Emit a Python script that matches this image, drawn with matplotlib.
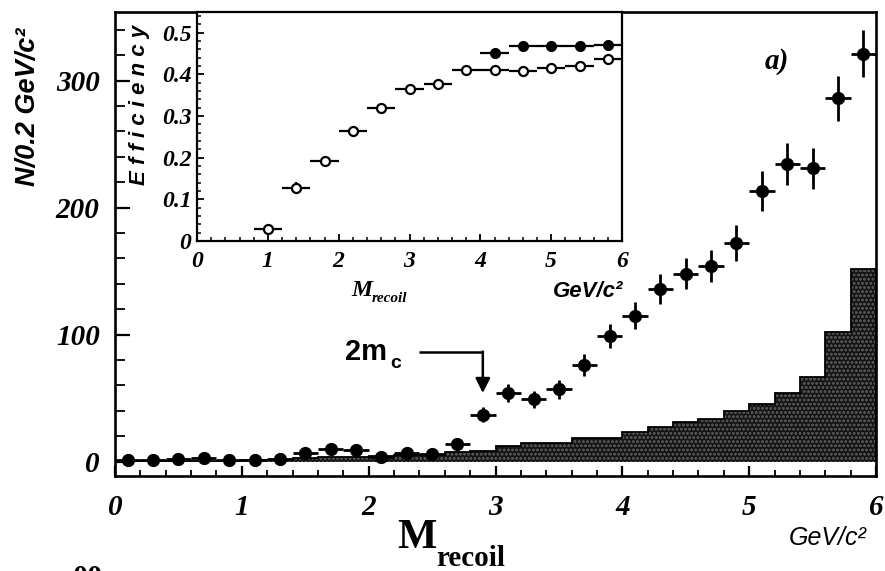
import matplotlib
matplotlib.use("Agg")
import matplotlib.pyplot as plt
from matplotlib.ticker import MultipleLocator, FixedLocator
import numpy as np

# ---------------- data ----------------
# main plot: recoil mass spectrum (bin width 0.2 GeV/c^2)
mass_centers = [0.1, 0.3, 0.5, 0.7, 0.9, 1.1, 1.3, 1.5, 1.7, 1.9,
                2.1, 2.3, 2.5, 2.7, 2.9, 3.1, 3.3, 3.5, 3.7, 3.9,
                4.1, 4.3, 4.5, 4.7, 4.9, 5.1, 5.3, 5.5, 5.7, 5.9]
counts = [1, 1, 2, 3, 1, 1, 2, 7, 10, 9,
          4, 7, 6, 14, 37, 54, 49, 57, 76, 99,
          115, 136, 148, 154, 172, 213, 234, 231, 286, 321]
count_err = [2, 2, 2, 2, 2, 2, 2, 3, 3.5, 3.5,
             2.5, 3, 3, 4, 6, 7, 7, 7.5, 8.5, 9.5,
             10.5, 11.5, 12, 12.5, 14, 15.5, 16.5, 16, 18, 18.5]
mass_halfwidth = 0.1

# background histogram (shaded)
bkg_edges = [0.0, 0.2, 0.4, 0.6, 0.8, 1.0, 1.2, 1.4, 1.6, 1.8, 2.0,
             2.2, 2.4, 2.6, 2.8, 3.0, 3.2, 3.4, 3.6, 3.8, 4.0,
             4.2, 4.4, 4.6, 4.8, 5.0, 5.2, 5.4, 5.6, 5.8, 6.0]
bkg_counts = [0.3, 0.3, 0.5, 0.6, 0.8, 1.0, 1.5, 3, 3.5, 4,
              4.5, 5, 5.5, 7.5, 8.7, 12.6, 14.5, 14.5, 19, 19,
              23, 27.5, 31.5, 33.5, 40, 45, 54, 66.5, 102, 152]

# inset: efficiency
eff_x_open = [1.0, 1.4, 1.8, 2.2, 2.6, 3.0, 3.4, 3.8, 4.2, 4.6, 5.0, 5.4, 5.8]
eff_open = [0.030, 0.128, 0.193, 0.265, 0.320, 0.364, 0.378, 0.411,
            0.410, 0.408, 0.416, 0.421, 0.436]
eff_open_err = [0.011, 0.014, 0.012, 0.010, 0.009, 0.0075, 0.005, 0.005,
                0.004, 0.003, 0.003, 0.003, 0.003]
eff_x_filled = [4.2, 4.6, 5.0, 5.4, 5.8]
eff_filled = [0.451, 0.469, 0.469, 0.469, 0.471]
eff_filled_err = [0.004, 0.003, 0.003, 0.003, 0.003]
eff_halfwidth = 0.2

main_xticks = [0, 1, 2, 3, 4, 5, 6]
main_xticklabels = ['0', '1', '2', '3', '4', '5', '6']
main_yticks = [0, 100, 200, 300]
main_yticklabels = ['0', '100', '200', '300']
inset_yticks = [0, 0.1, 0.2, 0.3, 0.4, 0.5]
inset_yticklabels = ['0', '0.1', '0.2', '0.3', '0.4', '0.5']

# annotation for 2m_c threshold
arrow_x_start = 2.40
arrow_x = 2.90
arrow_y_top = 86
arrow_y_tip = 54

SERIF = 'Liberation Serif'
SANS = 'Liberation Sans'

plt.rcParams['hatch.linewidth'] = 0.7

W, H = 885, 571
fig = plt.figure(figsize=(W / 100, H / 100), dpi=100)


def fx(px):
    return px / W


def fy(py):
    return 1 - py / H


# ---------------- main axes ----------------
ax = fig.add_axes([fx(115), fy(476), fx(876) - fx(115), fy(12) - fy(476)])
ax.set_zorder(1)
ax.set_xlim(0, 6)
ax.set_ylim(-11.3, 354)

# background histogram
ax.stairs(bkg_counts, bkg_edges, fill=True, facecolor='#141414',
          edgecolor='#505050', hatch='oooo', linewidth=0, zorder=1)
ax.stairs(bkg_counts, bkg_edges, fill=False, edgecolor='black',
          linewidth=1.3, zorder=2)

# data points
ax.errorbar(mass_centers, counts, xerr=mass_halfwidth, yerr=count_err,
            fmt='o', color='black', ms=8.5, elinewidth=2.0, capsize=0,
            zorder=3)

for s in ['top', 'right', 'bottom', 'left']:
    ax.spines[s].set_linewidth(1.9)

ax.xaxis.set_major_locator(FixedLocator(main_xticks))
ax.set_xticklabels(main_xticklabels)
ax.xaxis.set_minor_locator(MultipleLocator(0.2))
ax.yaxis.set_major_locator(FixedLocator(main_yticks))
ax.set_yticklabels(main_yticklabels)
ax.yaxis.set_minor_locator(MultipleLocator(20))
ax.tick_params(axis='x', which='major', direction='in', length=7.5, width=1.6,
               top=False, pad=13)
ax.tick_params(axis='x', which='minor', direction='in', length=4.5, width=1.3,
               top=False)
ax.tick_params(axis='y', which='major', direction='in', length=11, width=1.6,
               right=False, pad=11)
ax.tick_params(axis='y', which='minor', direction='in', length=7, width=1.3,
               right=False)
for lab in ax.get_xticklabels() + ax.get_yticklabels():
    lab.set_fontfamily(SERIF)
    lab.set_fontstyle('italic')
    lab.set_fontweight('bold')
    lab.set_fontsize(21)

# 2m_c annotation
ax.plot([arrow_x_start, arrow_x], [arrow_y_top, arrow_y_top], color='black',
        lw=1.8, zorder=4, solid_capstyle='butt')
ax.annotate('', xy=(arrow_x, arrow_y_tip), xytext=(arrow_x, arrow_y_top + 0.7),
            arrowprops=dict(arrowstyle='-|>', color='black', lw=1.8,
                            mutation_scale=22, shrinkA=0, shrinkB=0),
            zorder=4)
ax.text(1.81, 86, '2m', fontfamily=SANS, fontweight='bold', fontsize=21,
        ha='left', va='center', zorder=4)
ax.text(2.17, 77, 'c', fontfamily=SANS, fontweight='bold', fontsize=14,
        ha='left', va='center', zorder=4)

ax.text(5.22, 315, 'a)', fontfamily=SERIF, fontstyle='italic',
        fontweight='bold', fontsize=21, ha='center', va='center')

# axis labels (figure pixel positions)
fig.text(fx(437), fy(548), 'M', fontfamily=SERIF, fontweight='bold',
         fontsize=30, ha='right', va='baseline')
fig.text(fx(436), fy(566), 'recoil', fontfamily=SERIF, fontweight='bold',
         fontsize=21, ha='left', va='baseline')
fig.text(fx(867), fy(545), 'GeV/c²', fontfamily=SANS, fontstyle='italic',
         fontsize=18, ha='right', va='baseline')
fig.text(fx(28), fy(107), 'N/0.2 GeV/c²', fontfamily=SANS, fontstyle='italic',
         fontweight='bold', fontsize=19.5, rotation=90, ha='center',
         va='center')
fig.text(fx(88), fy(565), '00', fontfamily=SERIF, fontweight='bold',
         fontsize=22, ha='center', va='top')

# ---------------- inset ----------------
axi = fig.add_axes([fx(197), fy(241), fx(622) - fx(197), fy(12) - fy(241)])
axi.set_zorder(2)
axi.set_facecolor('white')
axi.set_xlim(0, 6)
axi.set_ylim(0, 0.55)

axi.errorbar(eff_x_open, eff_open, xerr=eff_halfwidth, yerr=eff_open_err,
             fmt='o', color='black', mfc='white', mec='black', ms=6.5,
             mew=1.6, elinewidth=1.6, capsize=0, zorder=3)
axi.errorbar(eff_x_filled, eff_filled, xerr=eff_halfwidth,
             yerr=eff_filled_err, fmt='o', color='black', ms=7,
             elinewidth=1.6, capsize=0, zorder=3)

for s in ['top', 'right', 'bottom', 'left']:
    axi.spines[s].set_linewidth(1.6)
axi.xaxis.set_major_locator(MultipleLocator(1))
axi.xaxis.set_minor_locator(MultipleLocator(0.2))
axi.yaxis.set_major_locator(FixedLocator(inset_yticks))
axi.set_yticklabels(inset_yticklabels)
axi.yaxis.set_minor_locator(MultipleLocator(0.02))
axi.tick_params(axis='both', which='major', direction='in', length=5,
                width=1.3, top=False, right=False)
axi.tick_params(axis='both', which='minor', direction='in', length=3,
                width=1.1, top=False, right=False)
axi.tick_params(axis='x', which='major', pad=7)
axi.tick_params(axis='y', which='major', pad=4)
for lab in axi.get_xticklabels() + axi.get_yticklabels():
    lab.set_fontfamily(SERIF)
    lab.set_fontstyle('italic')
    lab.set_fontweight('bold')
    lab.set_fontsize(17)

fig.text(fx(140), fy(105), 'E f f i c i e n c y', fontfamily=SANS,
         fontstyle='italic', fontweight='bold', fontsize=16, rotation=90,
         ha='center', va='center')
fig.text(fx(372), fy(296), 'M', fontfamily=SERIF, fontstyle='italic',
         fontweight='bold', fontsize=17, ha='right', va='baseline')
fig.text(fx(372), fy(302), 'recoil', fontfamily=SERIF, fontstyle='italic',
         fontweight='bold', fontsize=11, ha='left', va='baseline')
fig.text(fx(623), fy(297), 'GeV/c²', fontfamily=SANS, fontstyle='italic',
         fontweight='bold', fontsize=16, ha='right', va='baseline')

fig.savefig('out.png', dpi=100, facecolor='white')
